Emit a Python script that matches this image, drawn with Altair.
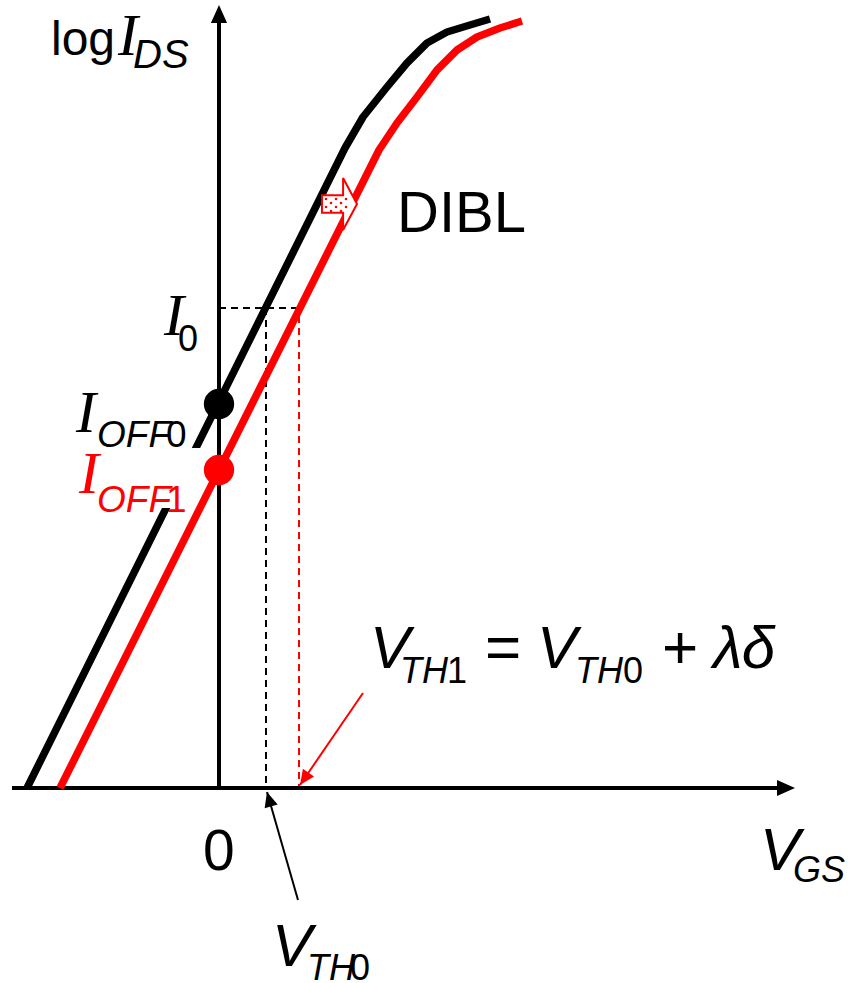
import math

import altair as alt
import pandas as pd

# ---- transfer curves (schematic units, axes cross at V_GS = 0, log I_DS = 0) ----
vgs_0 = [-1.92, 1.26, 1.44, 1.68, 1.88, 2.08, 2.28, 2.51, 2.71]
log_ids_0 = [0.00, 6.40, 6.71, 7.01, 7.25, 7.45, 7.56, 7.63, 7.69]
vgs_1 = [-1.59, 1.60, 1.78, 1.98, 2.18, 2.38, 2.58, 2.81, 3.03]
log_ids_1 = [0.00, 6.38, 6.65, 6.91, 7.18, 7.38, 7.51, 7.60, 7.67]

# off currents at V_GS = 0, reference current level and the two thresholds
i_off0 = 3.84
i_off1 = 3.18
i_0 = 4.80
v_th0 = 0.47
v_th1 = 0.80

# axis extent
x_axis_from, x_axis_tip = -2.07, 5.76
y_axis_tip = 7.83

# callout arrows: (start x, start y, tip x, tip y, colour)
callouts = [
    (0.79, -1.12, 0.48, -0.04, "#000000"),
    (1.44, 0.95, 0.81, 0.03, "#ff0000"),
]

# DIBL shift arrow (centre) and its dotted fill
dibl_x, dibl_y = 1.20, 5.84
dot_x = [1.07, 1.17, 1.27, 1.12, 1.22, 1.07, 1.17, 1.27, 1.12, 1.22]
dot_y = [5.89, 5.89, 5.89, 5.85, 5.85, 5.81, 5.81, 5.81, 5.77, 5.77]

# text pieces: text, left x, baseline y, font size, colour, style
SANS = "Liberation Sans, Arial, sans-serif"
SERIF = "Liberation Serif, Times New Roman, serif"
labels = pd.DataFrame(
    [
        ("log", -1.68, 7.33, 48, "#000000", "sans"),
        ("I", -1.01, 7.33, 60, "#000000", "serif_i"),
        ("DS", -0.86, 7.20, 40, "#000000", "sans_i"),
        ("I", -0.55, 4.53, 60, "#000000", "serif_i"),
        ("0", -0.41, 4.37, 36, "#000000", "sans"),
        ("I", -1.43, 3.56, 60, "#000000", "serif_i"),
        ("OFF", -1.22, 3.41, 37, "#000000", "sans_i"),
        ("0", -0.53, 3.41, 37, "#000000", "sans"),
        ("I", -1.40, 2.95, 60, "#ff0000", "serif_i"),
        ("OFF", -1.22, 2.76, 37, "#ff0000", "sans_i"),
        ("1", -0.53, 2.76, 37, "#ff0000", "sans"),
        ("0", -0.16, -0.82, 57, "#000000", "sans"),
        ("V", 5.41, -0.82, 60, "#000000", "sans_i"),
        ("GS", 5.74, -0.94, 36, "#000000", "sans_i"),
        ("V", 0.53, -1.78, 60, "#000000", "sans_i"),
        ("TH", 0.88, -1.92, 36, "#000000", "sans_i"),
        ("0", 1.31, -1.92, 36, "#000000", "sans"),
        ("DIBL", 1.78, 5.56, 58, "#000000", "sans"),
        ("V", 1.51, 1.20, 60, "#000000", "sans_i"),
        ("TH", 1.81, 1.05, 36, "#000000", "sans_i"),
        ("1", 2.28, 1.05, 36, "#000000", "sans"),
        ("=", 2.66, 1.20, 62, "#000000", "sans"),
        ("V", 3.18, 1.20, 60, "#000000", "sans_i"),
        ("TH", 3.56, 1.05, 36, "#000000", "sans_i"),
        ("0", 4.04, 1.05, 36, "#000000", "sans"),
        ("+", 4.43, 1.20, 62, "#000000", "sans"),
        ("λδ", 4.94, 1.20, 60, "#000000", "sans_i"),
    ],
    columns=["text", "x", "y", "size", "color", "style"],
)

X_DOM = [-2.19, 6.31]
Y_DOM = [-1.95, 7.88]
PX_PER_UNIT = 100.0

xs = alt.Scale(domain=X_DOM, nice=False, zero=False)
ys = alt.Scale(domain=Y_DOM, nice=False, zero=False)


def X(field="x"):
    return alt.X(f"{field}:Q", scale=xs, axis=None)


def Y(field="y"):
    return alt.Y(f"{field}:Q", scale=ys, axis=None)


# ---- axes ----
axis_lines = pd.DataFrame(
    {
        "x": [x_axis_from, 0.0],
        "x2": [x_axis_tip - 0.1, 0.0],
        "y": [0.0, 0.0],
        "y2": [0.0, y_axis_tip - 0.1],
    }
)
axes = alt.Chart(axis_lines).mark_rule(strokeWidth=4, color="black", strokeCap="butt").encode(
    x=X(), x2="x2:Q", y=Y(), y2="y2:Q"
)


def head(tip_x, tip_y, dx, dy, length_px, color):
    """Arrowhead symbol centred half a head-length behind the tip."""
    norm = math.hypot(dx, dy)
    ux, uy = dx / norm, dy / norm
    r = length_px / 2 / PX_PER_UNIT
    ang = math.degrees(math.atan2(dx, dy)) % 360
    return {
        "x": tip_x - ux * r,
        "y": tip_y - uy * r,
        "angle": ang,
        "size": length_px ** 2,
        "color": color,
    }


heads = [
    head(x_axis_tip, 0.0, 1, 0, 18, "#000000"),
    head(0.0, y_axis_tip, 0, 1, 18, "#000000"),
]
for sx, sy, tx, ty, c in callouts:
    heads.append(head(tx, ty, tx - sx, ty - sy, 15, c))
heads = pd.DataFrame(heads)

ARROW_UP = "M0,-1 L0.9,1 L-0.9,1 Z"
arrowheads = alt.Chart(heads).mark_point(shape=ARROW_UP, filled=True, opacity=1, strokeWidth=0).encode(
    x=X(),
    y=Y(),
    angle=alt.Angle("angle:Q", scale=None),
    size=alt.Size("size:Q", scale=None),
    color=alt.Color("color:N", scale=None),
)

callout_df = pd.DataFrame(
    [{"x": sx, "y": sy, "x2": tx, "y2": ty, "color": c} for sx, sy, tx, ty, c in callouts]
)
callout_lines = alt.Chart(callout_df).mark_rule(strokeWidth=2).encode(
    x=X(), y=Y(), x2="x2:Q", y2="y2:Q", color=alt.Color("color:N", scale=None)
)

# ---- dashed construction lines ----
dash_df = pd.DataFrame(
    {
        "x": [0.0, v_th0, v_th1],
        "x2": [v_th1, v_th0, v_th1],
        "y": [i_0, i_0, i_0 - 0.08],
        "y2": [i_0, 0.0, 0.0],
        "color": ["#000000", "#000000", "#ff0000"],
    }
)
dashes = alt.Chart(dash_df).mark_rule(strokeWidth=2, strokeDash=[7, 5]).encode(
    x=X(), x2="x2:Q", y=Y(), y2="y2:Q", color=alt.Color("color:N", scale=None)
)

# ---- curves ----
curve0 = alt.Chart(pd.DataFrame({"x": vgs_0, "y": log_ids_0, "i": range(len(vgs_0))})).mark_line(
    color="#000000", strokeWidth=7.5, strokeCap="butt", strokeJoin="round"
).encode(x=X(), y=Y(), order="i:Q")
curve1 = alt.Chart(pd.DataFrame({"x": vgs_1, "y": log_ids_1, "i": range(len(vgs_1))})).mark_line(
    color="#ff0000", strokeWidth=7.5, strokeCap="butt", strokeJoin="round"
).encode(x=X(), y=Y(), order="i:Q")

# white backing of the off-current labels
label_box = alt.Chart(pd.DataFrame({"x": [-0.69], "x2": [-0.13], "y": [3.40], "y2": [2.80]})).mark_rect(
    color="white"
).encode(x=X(), x2="x2:Q", y=Y(), y2="y2:Q")

# off-current markers
dots = alt.Chart(
    pd.DataFrame({"x": [0.0, 0.0], "y": [i_off0, i_off1], "color": ["#000000", "#ff0000"]})
).mark_circle(size=920, opacity=1).encode(x=X(), y=Y(), color=alt.Color("color:N", scale=None))

# DIBL block arrow
BLOCK_ARROW = "M-0.71,-0.36 L0.17,-0.36 L0.17,-1.08 L0.75,0 L0.17,1.08 L0.17,0.36 L-0.71,0.36 Z"
dibl_arrow = alt.Chart(pd.DataFrame({"x": [dibl_x], "y": [dibl_y]})).mark_point(
    shape=BLOCK_ARROW, size=2304, filled=False, fill="white", fillOpacity=1, stroke="#ff0000",
    strokeWidth=2, opacity=1,
).encode(x=X(), y=Y())
dibl_dots = alt.Chart(pd.DataFrame({"x": dot_x, "y": dot_y})).mark_square(
    size=5, color="#ff0000", opacity=1
).encode(x=X(), y=Y())


# ---- text ----
def text_layer(style, font, font_style):
    return alt.Chart(labels[labels["style"] == style]).mark_text(
        align="left", baseline="alphabetic", font=font, fontStyle=font_style
    ).encode(
        x=X(), y=Y(), text="text:N",
        size=alt.Size("size:Q", scale=None),
        color=alt.Color("color:N", scale=None),
    )


texts = [
    text_layer("sans", SANS, "normal"),
    text_layer("sans_i", SANS, "italic"),
    text_layer("serif_i", SERIF, "italic"),
]

chart = alt.layer(
    dashes,
    axes,
    curve0,
    label_box,
    *texts,
    curve1,
    dots,
    dibl_arrow,
    dibl_dots,
    callout_lines,
    arrowheads,
).properties(
    width=850, height=983, padding=0, autosize="none", background="white"
).configure_view(stroke=None)

chart.save("out.html", embed_options={"renderer": "svg", "actions": False})
